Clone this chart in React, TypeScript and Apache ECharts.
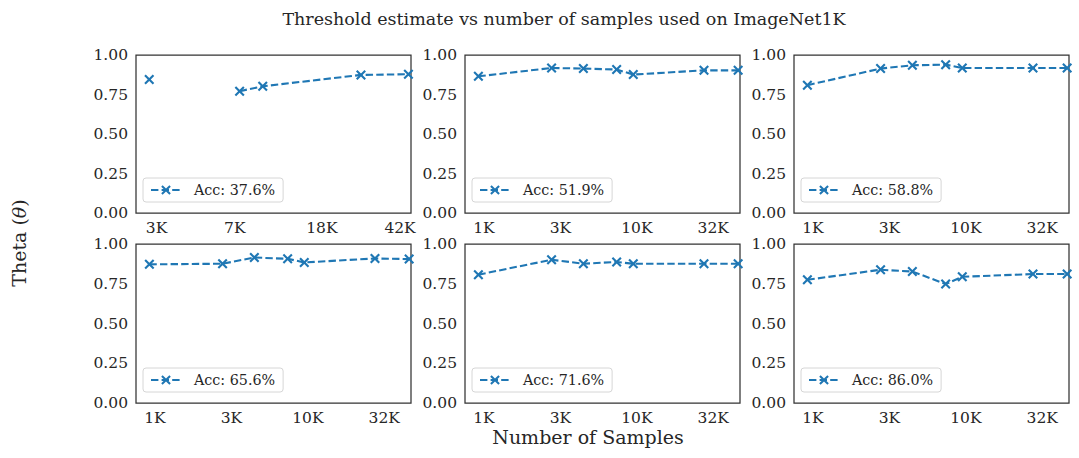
import React, { useEffect, useRef } from "react";
import * as echarts from "echarts";

// ---- data ----
const sampleCounts = [920, 2770, 4470, 7380, 9480, 27500, 46000];
const accLabels = ["Acc: 37.6%", "Acc: 51.9%", "Acc: 58.8%", "Acc: 65.6%", "Acc: 71.6%", "Acc: 86.0%"];
const theta376 = [null, 0.845, null, 0.771, 0.802, 0.874, 0.878];
const theta519 = [0.865, 0.918, 0.914, 0.908, 0.876, 0.903, 0.903];
const theta588 = [0.809, 0.914, 0.935, 0.939, 0.918, 0.918, 0.918];
const theta656 = [0.872, 0.876, 0.915, 0.907, 0.884, 0.909, 0.905];
const theta716 = [0.807, 0.901, 0.876, 0.887, 0.876, 0.876, 0.876];
const theta860 = [0.775, 0.838, 0.827, 0.748, 0.794, 0.811, 0.811];
const panelThetas = [theta376, theta519, theta588, theta656, theta716, theta860];

// x tick values (sample counts) and limits
const firstPanelTicks = [3000, 7000, 18000, 42000];
const otherPanelTicks = [1000, 3162, 10000, 31623];
const xLimMinFirst = 2400;
const xLimMinOther = 752;
const xLimMax = 47300;
const yTicks = [0, 0.25, 0.5, 0.75, 1.0];

const TITLE = "Threshold estimate vs number of samples used on ImageNet1K";
const XLABEL = "Number of Samples";

const BLUE = "#1f77b4";
const TEXT = "#262626";
const FONT = "DejaVu Serif";
const XMARK = "path://M1.5,0L5,3.5L8.5,0L10,1.5L6.5,5L10,8.5L8.5,10L5,6.5L1.5,10L0,8.5L3.5,5L0,1.5Z";

export default function App() {
  const ref = useRef<HTMLDivElement>(null);
  useEffect(() => {
    if (!ref.current) return;
    const chart = echarts.init(ref.current, null, { renderer: "svg" });
    const lefts = [136, 465, 794];
    const tops = [55, 244];
    const heights = [158, 159];
    const W = 275;
    const grids: any[] = [];
    const xAxes: any[] = [];
    const yAxes: any[] = [];
    const series: any[] = [];
    const legends: any[] = [];
    for (let i = 0; i < 6; i++) {
      const r = Math.floor(i / 3);
      const c = i % 3;
      const left = lefts[c];
      const top = tops[r];
      const h = heights[r];
      grids.push({
        left, top, width: W, height: h,
        show: true, borderColor: "#333333", borderWidth: 1.25, backgroundColor: "#ffffff",
      });
      const ticks = i === 0 ? firstPanelTicks : otherPanelTicks;
      xAxes.push({
        type: "value",
        gridIndex: i,
        min: Math.log10(i === 0 ? xLimMinFirst : xLimMinOther),
        max: Math.log10(xLimMax),
        axisLine: { show: false },
        axisTick: { show: false },
        splitLine: { show: false },
        axisLabel: {
          customValues: ticks.map((t) => Math.log10(t)),
          formatter: (v: number) => Math.round(Math.pow(10, v) / 1000) + "K",
          fontFamily: FONT,
          fontSize: 15.5,
          color: TEXT,
          margin: 7,
        },
      });
      yAxes.push({
        type: "value",
        gridIndex: i,
        min: 0,
        max: 1,
        axisLine: { show: false },
        axisTick: { show: false },
        splitLine: { show: false },
        axisLabel: {
          customValues: yTicks,
          formatter: (v: number) => v.toFixed(2),
          fontFamily: FONT,
          fontSize: 15.5,
          color: TEXT,
          margin: 8,
        },
      });
      series.push({
        type: "line",
        name: accLabels[i],
        xAxisIndex: i,
        yAxisIndex: i,
        data: sampleCounts.map((n, k) => [Math.log10(n), panelThetas[i][k] == null ? "-" : panelThetas[i][k]]),
        symbol: XMARK,
        symbolSize: 10,
        showSymbol: true,
        itemStyle: { color: BLUE },
        lineStyle: { color: BLUE, width: 2.1, type: [7.4, 3.2] },
        connectNulls: false,
        clip: true,
      });
      legends.push({
        data: [accLabels[i]],
        left: left + 7,
        top: top + h - 35,
        orient: "horizontal",
        backgroundColor: "#ffffff",
        borderColor: "#d6d6d6",
        borderWidth: 1,
        borderRadius: 3,
        padding: [5, 8, 5, 7],
        itemWidth: 30,
        itemHeight: 12,
        textStyle: { fontFamily: FONT, fontSize: 14.3, color: TEXT, padding: [0, 0, 0, 8] },
      });
    }
    chart.setOption({
      animation: false,
      backgroundColor: "#ffffff",
      grid: grids,
      xAxis: xAxes,
      yAxis: yAxes,
      series,
      legend: legends,
      graphic: [
        {
          type: "text", x: 564, y: 19,
          style: { text: TITLE, fontFamily: FONT, fontSize: 17.5, fill: TEXT, align: "center", verticalAlign: "middle" },
        },
        {
          type: "text", x: 588, y: 437,
          style: { text: XLABEL, fontFamily: FONT, fontSize: 19, fill: TEXT, align: "center", verticalAlign: "middle" },
        },
        {
          type: "text", x: 19, y: 243, rotation: Math.PI / 2,
          style: {
            text: "Theta ({it|θ})", fontFamily: FONT, fontSize: 19, fill: TEXT, align: "center", verticalAlign: "middle",
            rich: { it: { fontStyle: "italic", fontFamily: FONT, fontSize: 19, fill: TEXT } },
          },
        },
      ],
    });
    return () => chart.dispose();
  }, []);
  return (
    <div
      ref={ref}
      style={{ position: "fixed", left: 0, top: 0, width: 1079, height: 458, background: "#ffffff" }}
    />
  );
}
